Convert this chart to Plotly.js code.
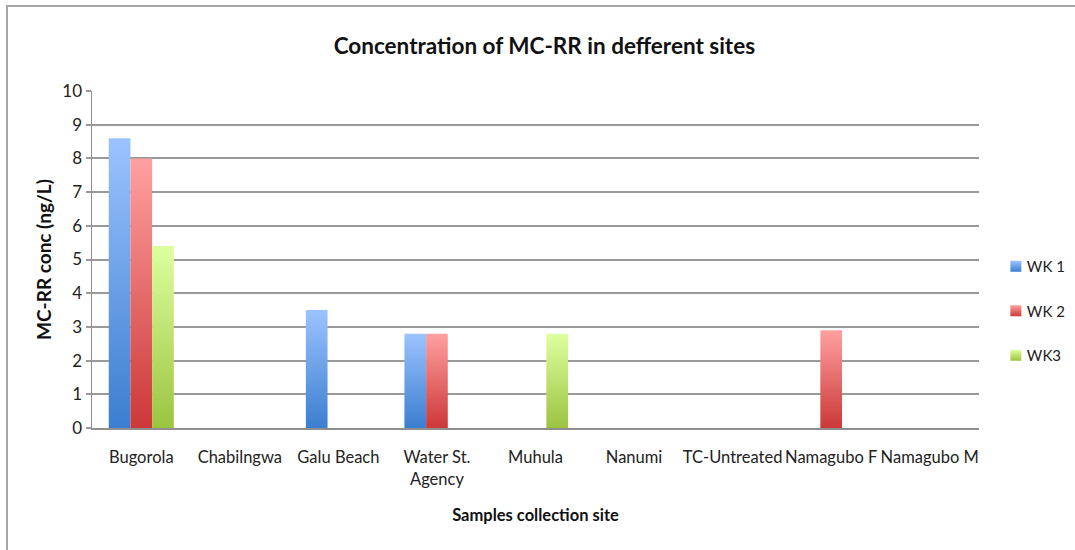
<!DOCTYPE html>
<html>
<head>
<meta charset="utf-8">
<script src="https://cdn.plot.ly/plotly-3.0.1.min.js"></script>
<style>
  html, body { margin: 0; padding: 0; background: #fff; }
  #frame { position: absolute; left: 0; top: 0; width: 1075px; height: 550px; }
  #border { position: absolute; left: 6px; top: 5px; width: 1075px; height: 550px;
            border-left: 2px solid #a6a6a6; border-top: 2px solid #a6a6a6; pointer-events: none; }
  #chart { position: absolute; left: 0; top: 0; width: 1075px; height: 550px; }
</style>
</head>
<body>
<div id="frame">
  <div id="chart"></div>
  <div id="border"></div>
</div>
<script>
const sites = ["Bugorola", "Chabilngwa", "Galu Beach", "Water St.<br>Agency", "Muhula", "Nanumi", "TC-Untreated", "Namagubo F", "Namagubo M"];
const wk1 = [8.6, null, 3.5, 2.8, null, null, null, null, null];
const wk2 = [8.0, null, null, 2.8, null, null, null, 2.9, null];
const wk3 = [5.4, null, null, null, 2.8, null, null, null, null];
const seriesNames = ["WK 1", "WK 2", "WK3"];
const yTicks = [0, 1, 2, 3, 4, 5, 6, 7, 8, 9, 10];

const midColors = ["#5f93dd", "#e35f5f", "#bbdc70"];
const gradStops = [
  ["#9cc3ff", "#3b7ecf"],
  ["#ffa0a0", "#cc3838"],
  ["#deff9f", "#9bc440"]
];

const font = "Lato, 'Open Sans', 'DejaVu Sans', sans-serif";
const series = [wk1, wk2, wk3];
const traces = series.map((vals, i) => ({
  type: "bar",
  name: seriesNames[i],
  x: sites,
  y: vals,
  legendgroup: "g" + i,
  marker: { color: midColors[i], line: { width: 0 } },
  hoverinfo: "x+y+name"
}));

const layout = {
  width: 1075,
  height: 550,
  margin: { l: 92, r: 96, t: 91, b: 122, autoexpand: false },
  paper_bgcolor: "rgba(0,0,0,0)",
  plot_bgcolor: "#ffffff",
  barmode: "group",
  bargap: 0.34,
  bargroupgap: 0,
  font: { family: font, color: "#222", size: 15 },
  title: {
    text: "<b>Concentration of MC-RR in defferent sites</b>",
    font: { family: font, size: 22.5, color: "#111" },
    x: 0.51, xref: "paper", xanchor: "center",
    y: 0.916, yref: "container", yanchor: "middle"
  },
  xaxis: {
    type: "category",
    showline: true, linecolor: "#8f8f8f", linewidth: 1.5,
    showgrid: false, ticks: "outside", ticklen: 14, tickcolor: "rgba(0,0,0,0)",
    tickfont: { family: font, size: 16.5, color: "#222" },
    title: { text: "<b>Samples collection site</b>", font: { family: font, size: 16.5, color: "#111" }, standoff: 21 },
    automargin: false, fixedrange: true
  },
  yaxis: {
    range: [0, 10],
    tickvals: yTicks,
    ticktext: yTicks.map(String),
    showline: true, linecolor: "#8f8f8f", linewidth: 1.5,
    showgrid: true, gridcolor: "#999999", gridwidth: 2,
    zeroline: false,
    ticks: "outside", ticklen: 5, tickcolor: "#999999", tickwidth: 2,
    tickfont: { family: font, size: 17, color: "#222" },
    title: { text: "<b>MC-RR conc (ng/L)</b>", font: { family: font, size: 19, color: "#111" }, standoff: 5 },
    automargin: false, fixedrange: true
  },
  showlegend: true,
  legend: {
    x: 1.019, xanchor: "left",
    y: 0.347, yanchor: "middle",
    traceorder: "grouped",
    tracegroupgap: 22,
    itemwidth: 30,
    font: { family: font, size: 15, color: "#222" },
    bgcolor: "rgba(0,0,0,0)"
  }
};

Plotly.newPlot("chart", traces, layout, { displayModeBar: false, staticPlot: true }).then(gd => {
  const svg = gd.querySelector("svg.main-svg");
  const ns = "http://www.w3.org/2000/svg";
  let defs = svg.querySelector("defs");
  if (!defs) { defs = document.createElementNS(ns, "defs"); svg.insertBefore(defs, svg.firstChild); }
  gradStops.forEach((st, i) => {
    const lg = document.createElementNS(ns, "linearGradient");
    lg.setAttribute("id", "barGrad" + i);
    lg.setAttribute("x1", "0"); lg.setAttribute("y1", "0");
    lg.setAttribute("x2", "0"); lg.setAttribute("y2", "1");
    const s0 = document.createElementNS(ns, "stop");
    s0.setAttribute("offset", "0%"); s0.setAttribute("stop-color", st[0]);
    const s1 = document.createElementNS(ns, "stop");
    s1.setAttribute("offset", "100%"); s1.setAttribute("stop-color", st[1]);
    lg.appendChild(s0); lg.appendChild(s1);
    defs.appendChild(lg);
  });
  const barTraces = gd.querySelectorAll(".barlayer .trace");
  barTraces.forEach((t, i) => {
    t.querySelectorAll("path").forEach(p => { p.style.fill = "url(#barGrad" + i + ")"; });
  });
  const legTraces = gd.querySelectorAll(".legend .traces");
  legTraces.forEach((t, i) => {
    t.querySelectorAll(".legendpoints path").forEach(p => {
      p.setAttribute("d", "M5.5,5.5H-5.5V-5.5H5.5Z");
      p.style.fill = "url(#barGrad" + i + ")";
    });
    const txt = t.querySelector(".legendtext");
    if (txt) {
      const x0 = parseFloat(txt.getAttribute("x")) || 40;
      txt.setAttribute("x", x0 - 9);
    }
  });
});
</script>
</body>
</html>
